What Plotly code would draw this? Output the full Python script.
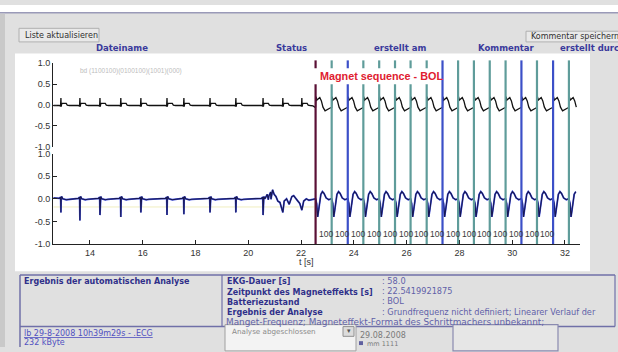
import plotly.graph_objects as go

W, H = 618, 352
def px(x): return x / W
def py(y): return 1 - y / H

# ---------------- data ----------------
magnet_time = 22.55
pace_times = [23.16, 23.77, 24.36, 24.96, 25.56, 26.15, 26.76, 27.36,
              27.95, 28.55, 29.15, 29.75, 30.35, 30.94, 31.55, 32.15]
pace_kind = ["t", "b", "t", "t", "t", "t", "t", "b",
             "t", "t", "t", "t", "b", "t", "b", "t"]
rate_labels = ["100"] * 16

x_ticks = [14, 16, 18, 20, 22, 24, 26, 28, 30, 32]
y_ticks = [-1.0, -0.5, 0.0, 0.5, 1.0]
y_tick_labels = ["-1.0", "-0.5", "0.0", "0.5", "1.0"]

# channel 1 (top, black): intrinsic beats before the magnet
top_beats = [12.90, 13.62, 14.38, 15.17, 15.93, 16.92, 17.56, 18.55,
             19.53, 20.56, 21.31, 22.03]
top_beat_off = [-0.06, -0.015, 0.0, 0.012, 0.025, 0.05, 0.20, 0.24, 0.32]
top_beat_val = [-0.01, -0.03, 0.17, -0.04, 0.02, 0.04, 0.04, 0.0, -0.01]
# channel 1 paced complex (after each pacing spike)
top_pace_off = [0.0, 0.015, 0.05, 0.10, 0.16, 0.22, 0.28, 0.36, 0.45, 0.55]
top_pace_val = [-0.06, 0.20, 0.12, 0.16, 0.18, 0.10, -0.05, -0.14, -0.10, -0.07]

# channel 2 (bottom, blue): intrinsic beats before the magnet
bot_beats = [12.90, 13.62, 14.38, 15.17, 15.93, 16.92, 17.56, 18.55,
             19.53, 20.56]
bot_beat_depth = [-0.30, -0.48, -0.36, -0.40, -0.30, -0.36, -0.34, -0.30,
                  -0.30, -0.36]
bot_beat_off = [-0.06, -0.012, 0.0, 0.012, 0.03, 0.07, 0.20, 0.30]
bot_beat_val = [0.01, 0.04, None, 0.03, 0.05, 0.0, -0.02, -0.01]
# noisy stretch before the magnet
bot_noise_t = [20.66, 20.72, 20.78, 20.85, 20.92, 20.98, 21.05, 21.12, 21.20,
               21.31, 21.36, 21.45, 21.55, 21.65, 21.72, 21.80, 21.88, 21.95,
               22.03, 22.10, 22.20, 22.30, 22.45]
bot_noise_v = [0.05, 0.10, 0.06, 0.15, 0.20, 0.10, 0.05, -0.05, -0.08,
               -0.30, -0.05, 0.0, -0.12, 0.05, 0.07, 0.0, -0.05, -0.10,
               -0.25, -0.05, 0.0, -0.03, -0.02]
# channel 2 paced complex
bot_pace_off = [0.0, 0.04, 0.08, 0.11, 0.15, 0.20, 0.26, 0.32, 0.40, 0.50, 0.58]
bot_pace_val = [0.0, -0.10, -0.40, -0.28, -0.05, 0.10, 0.16, 0.12, 0.02, -0.02, 0.0]

t_start, t_end = 12.62, 32.45
threshold_level = -0.18

# ---------------- build traces ----------------
complex_times = [magnet_time] + pace_times

top_pts = [(t_start, -0.01)]
for b in top_beats:
    for o, v in zip(top_beat_off, top_beat_val):
        top_pts.append((b + o, v))
top_pts.append((22.45, -0.02))
for c in complex_times:
    for o, v in zip(top_pace_off, top_pace_val):
        top_pts.append((c + o, v))
top_pts = sorted(p for p in top_pts if p[0] <= t_end)

bot_pts = [(t_start, 0.02)]
for b, d in zip(bot_beats, bot_beat_depth):
    for o, v in zip(bot_beat_off, bot_beat_val):
        bot_pts.append((b + o, d if v is None else v))
for t, v in zip(bot_noise_t, bot_noise_v):
    bot_pts.append((t, v))
for c in complex_times:
    for o, v in zip(bot_pace_off, bot_pace_val):
        bot_pts.append((c + o, v))
bot_pts = sorted(p for p in bot_pts if p[0] <= t_end)

fig = go.Figure()
fig.add_trace(go.Scatter(x=[p[0] for p in top_pts], y=[p[1] for p in top_pts],
                         mode="lines", line=dict(color="#111111", width=1.3),
                         xaxis="x2", yaxis="y2", hoverinfo="skip"))
fig.add_trace(go.Scatter(x=[p[0] for p in bot_pts], y=[p[1] for p in bot_pts],
                         mode="lines", line=dict(color="#4050e0", width=1.8),
                         xaxis="x", yaxis="y", hoverinfo="skip"))
fig.add_trace(go.Scatter(x=[p[0] for p in bot_pts], y=[p[1] for p in bot_pts],
                         mode="lines", line=dict(color="#181850", width=1.1),
                         xaxis="x", yaxis="y", hoverinfo="skip"))

# ---------------- shapes ----------------
shapes = []
def rect(x0, y0, x1, y1, fill, line=None, lw=1, layer="below"):
    shapes.append(dict(type="rect", xref="paper", yref="paper",
                       x0=px(x0), x1=px(x1), y0=py(y1), y1=py(y0),
                       fillcolor=fill, layer=layer,
                       line=dict(color=line or "rgba(0,0,0,0)", width=lw if line else 0)))
def hline(x0, x1, y, color, lw=1, layer="below"):
    shapes.append(dict(type="line", xref="paper", yref="paper",
                       x0=px(x0), x1=px(x1), y0=py(y), y1=py(y),
                       line=dict(color=color, width=lw), layer=layer))
def vline(x, y0, y1, color, lw=1, layer="below"):
    shapes.append(dict(type="line", xref="paper", yref="paper",
                       x0=px(x), x1=px(x), y0=py(y0), y1=py(y1),
                       line=dict(color=color, width=lw), layer=layer))

# page
rect(0, 0, 618, 8, "#ffffff")
hline(0, 618, 8, "#9a9ab8", 1.5)
rect(0, 9, 5, 352, "#c9c9c9")
# buttons
rect(19, 24, 99, 38, "#e9e9e9", "#b0b0b0", 1)
rect(526, 27, 620, 38, "#e9e9e9", "#b0b0b0", 1)
# chart area
rect(15, 50, 590, 274, "#ffffff")
# analysis table
hline(20, 615, 278, "#7070a8", 1.5)
vline(20, 278, 352, "#7070a8", 1.5)
vline(222, 278, 331, "#7070a8", 1.2)
vline(615, 278, 331, "#7070a8", 1.2)
hline(20, 615, 331, "#7070a8", 1.5)
# bottom row widgets
rect(225, 329, 356, 356, "#f3f3f3", "#a0a0a0", 1)
rect(343, 331, 354, 341, "#dcdcdc", "#909090", 1)
rect(453, 329, 558, 356, "#e6e6e6", "#8a8ab0", 1.2)
rect(359, 346, 363, 350, "#6060a0")

# faint threshold line in lower channel
shapes.append(dict(type="line", xref="x", yref="y", x0=t_start, x1=22.5,
                   y0=threshold_level, y1=threshold_level,
                   line=dict(color="#f0eec0", width=1), layer="below"))

# magnet + pacing marker lines
line_colors = {"m": "#5a1035", "t": "#5f9c9a", "b": "#3c50c8"}
for t, k in zip(complex_times, ["m"] + pace_kind):
    shapes.append(dict(type="line", xref="x", yref="paper", x0=t, x1=t,
                       y0=py(246), y1=py(57),
                       line=dict(color=line_colors[k], width=2.2), layer="above"))
# white box behind label
rect(312, 65, 436, 81.5, "#ffffff", layer="above")

# ---------------- annotations ----------------
ann = []
UI = "DejaVu Sans"
def txt(x, y, s, size=8, color="#333333", bold=False, anchor="left", family=UI):
    if bold:
        s = "<b>" + s + "</b>"
    ann.append(dict(x=px(x), y=py(y), xref="paper", yref="paper", text=s,
                    showarrow=False, xanchor=anchor, yanchor="middle",
                    font=dict(family=family, size=size, color=color)))

txt(23, 31, "Liste aktualisieren", 8, "#303030")
txt(529, 32.5, "Kommentar speichern", 8, "#303030")
hdr = "#3a3a9c"
txt(122, 44, "Dateiname", 8.5, hdr, True, "center")
txt(291, 44, "Status", 8.5, hdr, True, "center")
txt(400, 44, "erstellt am", 8.5, hdr, True, "center")
txt(506, 44, "Kommentar", 8.5, hdr, True, "center")
txt(558, 44, "erstellt durch", 8.5, hdr, True, "left")

txt(78, 68, "bd (1100100)(0100100)(1001)(000)", 6.5, "#bdbdbd", family="Liberation Sans")
ann.append(dict(x=px(318), y=py(73.5), xref="paper", yref="paper",
                text="<b>Magnet sequence - BOL</b>", showarrow=False,
                xanchor="left", yanchor="middle",
                font=dict(family="Liberation Sans", size=10.8, color="#e02030")))
for t, lab in zip(complex_times[:-1], rate_labels[:15]):
    ann.append(dict(x=t, y=py(236), xref="x", yref="paper", text=lab,
                    showarrow=False, xanchor="left", yanchor="middle", xshift=1.5,
                    font=dict(family="Liberation Sans", size=8.5, color="#3a3a3a")))
txt(306, 265, "t [s]", 9, "#333333", anchor="center", family="Liberation Sans")

lab = "#30308a"
txt(22, 285, "Ergebnis der automatischen Analyse", 8, lab, True)
txt(225, 285, "EKG-Dauer [s]", 8, lab, True)
txt(225, 295.5, "Zeitpunkt des Magneteffekts [s]", 8, lab, True)
txt(225, 306, "Batteriezustand", 8, lab, True)
txt(225, 316.5, "Ergebnis der Analyse", 8, lab, True)
val = "#6060a8"
txt(380, 284, ": 58.0", 8.2, val)
txt(380, 294.5, ": 22.5419921875", 8.2, val)
txt(380, 305, ": BOL", 8.2, val)
txt(380, 315.5, ": Grundfrequenz nicht definiert; Linearer Verlauf der", 8.2, val)
txt(224, 326.5, "Manget-Frequenz; Magneteffekt-Format des Schrittmachers unbekannt;", 8.9, val)

txt(22, 338, "<u>lb 29-8-2008 10h39m29s - .ECG</u>", 8, "#5050c0")
txt(22, 347.5, "232 kByte", 8, "#5050c0")
txt(230, 336.5, "Analyse abgeschlossen", 7.2, "#8a8a8a")
txt(345, 336, "▾", 7, "#555555")
txt(358, 340, "29.08.2008", 8, "#7a7a7a")
txt(365, 348.5, "mm 1111", 6.5, "#7a7a7a")

# ---------------- layout ----------------
xdom = [px(53), px(580)]
tick_font = dict(family="Liberation Sans", size=9, color="#333333")
common_y = dict(range=[-1.0, 1.0], tickvals=y_ticks, ticktext=y_tick_labels,
                ticks="inside", ticklen=4, tickcolor="#222222",
                showline=True, linecolor="#222222", linewidth=1,
                showgrid=False, zeroline=False, tickfont=tick_font, fixedrange=True)

fig.update_layout(
    width=W, height=H, margin=dict(l=0, r=0, t=0, b=0),
    paper_bgcolor="#e0e0e0", plot_bgcolor="rgba(0,0,0,0)",
    showlegend=False,
    xaxis=dict(domain=xdom, range=[12.6, 32.57], tickvals=x_ticks,
               ticks="inside", ticklen=4, tickcolor="#222222",
               showline=True, linecolor="#222222", linewidth=1,
               showgrid=False, zeroline=False, tickfont=tick_font, anchor="y"),
    yaxis=dict(domain=[py(246), py(153)], anchor="x", **common_y),
    xaxis2=dict(domain=xdom, range=[12.6, 32.57], matches="x", visible=False,
                anchor="y2"),
    yaxis2=dict(domain=[py(146), py(60)], anchor="x2", **common_y),
    shapes=shapes, annotations=ann,
)

fig.write_html("out.html", config={"displayModeBar": False},
               post_script="document.body.style.margin='0';"
                           "document.body.style.overflow='hidden';")
